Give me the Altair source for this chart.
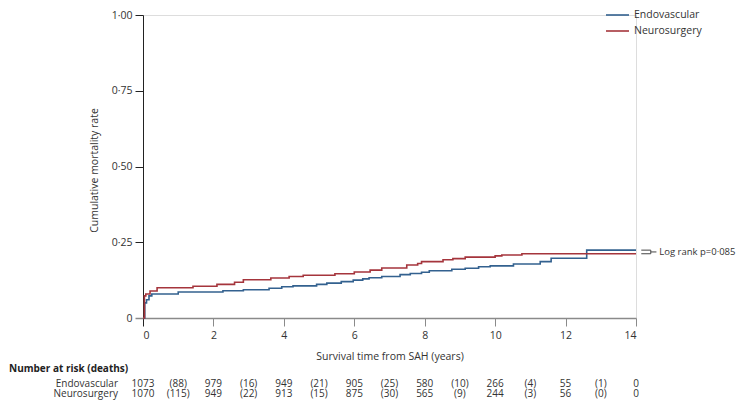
import altair as alt
import pandas as pd

# ---------------- data ----------------
endo_t = [0, 0.05, 0.10, 0.17, 0.25, 1.00, 2.27, 2.85, 3.58, 3.94, 4.26, 4.93, 5.22, 5.63, 5.97,
          6.24, 6.42, 6.78, 7.30, 7.59, 7.91, 8.13, 8.77, 9.15, 9.53, 9.86, 10.52, 11.28, 11.59,
          12.60, 14.0]
endo_v = [0, 0.050, 0.060, 0.073, 0.079, 0.086, 0.090, 0.093, 0.098, 0.103, 0.106, 0.111, 0.115,
          0.120, 0.125, 0.129, 0.133, 0.137, 0.143, 0.147, 0.151, 0.156, 0.161, 0.164, 0.169,
          0.172, 0.178, 0.186, 0.197, 0.224, 0.224]

neuro_t = [0, 0.04, 0.08, 0.20, 0.40, 1.42, 2.10, 2.60, 2.85, 3.63, 4.15, 4.55, 5.45, 6.00, 6.45,
           6.78, 7.49, 7.80, 7.91, 8.52, 8.80, 9.15, 10.00, 10.19, 10.76, 14.0]
neuro_v = [0, 0.073, 0.079, 0.089, 0.100, 0.105, 0.111, 0.118, 0.126, 0.132, 0.137, 0.141, 0.146,
           0.152, 0.158, 0.165, 0.175, 0.180, 0.186, 0.192, 0.196, 0.201, 0.205, 0.208, 0.212,
           0.212]

groups = ["Endovascular", "Neurosurgery"]
colors = ["#33618f", "#a5353c"]

at_risk_t = [0, 2, 4, 6, 8, 10, 12, 14]
endo_risk = ["1073", "979", "949", "905", "580", "266", "55", "0"]
neuro_risk = ["1070", "949", "913", "875", "565", "244", "56", "0"]
deaths_t = [1, 3, 5, 7, 9, 11, 13]
endo_deaths = ["(88)", "(16)", "(21)", "(25)", "(10)", "(4)", "(1)"]
neuro_deaths = ["(115)", "(22)", "(15)", "(30)", "(9)", "(3)", "(0)"]

y_ticks = [0, 0.25, 0.5, 0.75, 1.0]
x_ticks = [0, 2, 4, 6, 8, 10, 12, 14]

logrank_text = "Log rank p=0·085"
table_heading = "Number at risk (deaths)"

# ---------------- build ----------------
FONT = "Open Sans"
TXT = "#333333"
GRAY = "#8a8a8a"
DARK = "#222222"
FS = 10.5
TFS = 10  # table font size

curves = pd.concat([
    pd.DataFrame({"t": endo_t, "v": endo_v, "g": groups[0]}),
    pd.DataFrame({"t": neuro_t, "v": neuro_v, "g": groups[1]}),
])

xs = alt.Scale(domain=[0, 14], nice=False, zero=False)
ys = alt.Scale(domain=[0, 1], nice=False)
cs = alt.Scale(domain=groups, range=colors)

lines = alt.Chart(curves).mark_line(interpolate="step-after", strokeWidth=1.6).encode(
    x=alt.X("t:Q", scale=xs, axis=alt.Axis(
        values=x_ticks, format="d", title="Survival time from SAH (years)",
        domainColor=GRAY, domainWidth=1.5,
        tickColor=alt.condition("datum.value == 0", alt.value(DARK), alt.value(GRAY)),
        tickSize=8, tickWidth=1, labelPadding=4, labelColor=TXT, labelFont=FONT,
        labelFontSize=FS, titleFont=FONT, titleFontSize=FS, titleColor=TXT,
        titleFontWeight="normal", titleY=38, titleBaseline="middle", grid=False)),
    y=alt.Y("v:Q", scale=ys, axis=alt.Axis(
        values=y_ticks,
        labelExpr="datum.value == 0 ? '0' : replace(format(datum.value, '.2f'), '.', '·')",
        title="Cumulative mortality rate", domainColor=DARK, domainWidth=1,
        tickColor=alt.condition("datum.value == 0", alt.value(GRAY), alt.value(DARK)),
        tickWidth=alt.condition("datum.value == 0", alt.value(1.5), alt.value(1)),
        tickSize=8, labelPadding=3, labelColor=TXT, labelFont=FONT,
        labelFontSize=FS, titleFont=FONT, titleFontSize=FS, titleColor=TXT,
        titleFontWeight="normal", titleX=-49, titleY=155, titleAngle=-90,
        titleBaseline="middle", titleAlign="center", grid=False)),
    color=alt.Color("g:N", scale=cs, legend=None),
    detail="g:N",
)

# legend (manual), one layer per entry, pixel positions
def legend_entry(i):
    df = pd.DataFrame({"g": [groups[i]]})
    ypix = 0 + 16 * i
    ln = alt.Chart(df).mark_rule(strokeWidth=1.6).encode(
        x=alt.value(463), x2=alt.value(486), y=alt.value(ypix),
        color=alt.Color("g:N", scale=cs, legend=None))
    tx = alt.Chart(df).mark_text(align="left", baseline="middle", font=FONT, fontSize=FS,
                                 color=TXT).encode(
        x=alt.value(491), y=alt.value(ypix), text="g:N")
    return [ln, tx]

# log-rank bracket
end_blue = endo_v[-1]
end_red = neuro_v[-1]
mid = (end_blue + end_red) / 2
br = pd.DataFrame({"t": [14.15, 14.42, 14.42, 14.15], "v": [end_blue, end_blue, end_red, end_red],
                   "o": [0, 1, 2, 3]})
bracket = alt.Chart(br).mark_line(color="#444444", strokeWidth=1).encode(
    x=alt.X("t:Q", scale=xs), y=alt.Y("v:Q", scale=ys), order="o:Q")
stub = alt.Chart(pd.DataFrame({"t": [14.42], "t2": [14.58], "v": [mid]})).mark_rule(
    color="#444444", strokeWidth=1).encode(
    x=alt.X("t:Q", scale=xs), x2="t2:Q", y=alt.Y("v:Q", scale=ys))
lr_text = alt.Chart(pd.DataFrame({"t": [14.66], "v": [mid], "s": [logrank_text]})).mark_text(
    align="left", baseline="middle", font=FONT, fontSize=9.5, color=TXT).encode(
    x=alt.X("t:Q", scale=xs), y=alt.Y("v:Q", scale=ys), text="s:N")

# number at risk table
def row(tvals, labels, ypix):
    df = pd.DataFrame({"t": tvals, "s": labels})
    return alt.Chart(df).mark_text(align="center", baseline="middle", font=FONT, fontSize=TFS,
                                   color=TXT).encode(
        x=alt.X("t:Q", scale=xs), y=alt.value(ypix), text="s:N")

def label(s, xpix, ypix, align="right", bold=False, size=TFS):
    return alt.Chart(pd.DataFrame({"s": [s]})).mark_text(
        align=align, baseline="middle", font=FONT, fontSize=size,
        fontWeight="bold" if bold else "normal", color=DARK if bold else TXT).encode(
        x=alt.value(xpix), y=alt.value(ypix), text="s:N")

ROW1, ROW2 = 369, 378.5
layers = [lines] + legend_entry(0) + legend_entry(1) + [
    bracket, stub, lr_text,
    label(table_heading, -134, 354, align="left", bold=True, size=10),
    label(groups[0], -25, ROW1), label(groups[1], -25, ROW2),
    row(at_risk_t, endo_risk, ROW1), row(at_risk_t, neuro_risk, ROW2),
    row(deaths_t, endo_deaths, ROW1), row(deaths_t, neuro_deaths, ROW2),
]

chart = alt.layer(*layers).properties(
    width=493, height=303,
    autosize=alt.AutoSizeParams(type="none"),
    padding={"left": 135, "top": 7, "right": 105, "bottom": 90},
).configure_view(stroke=None).configure_axis(grid=False).configure(background="white")

chart.save("out.html", embed_options={"renderer": "svg", "actions": False})
